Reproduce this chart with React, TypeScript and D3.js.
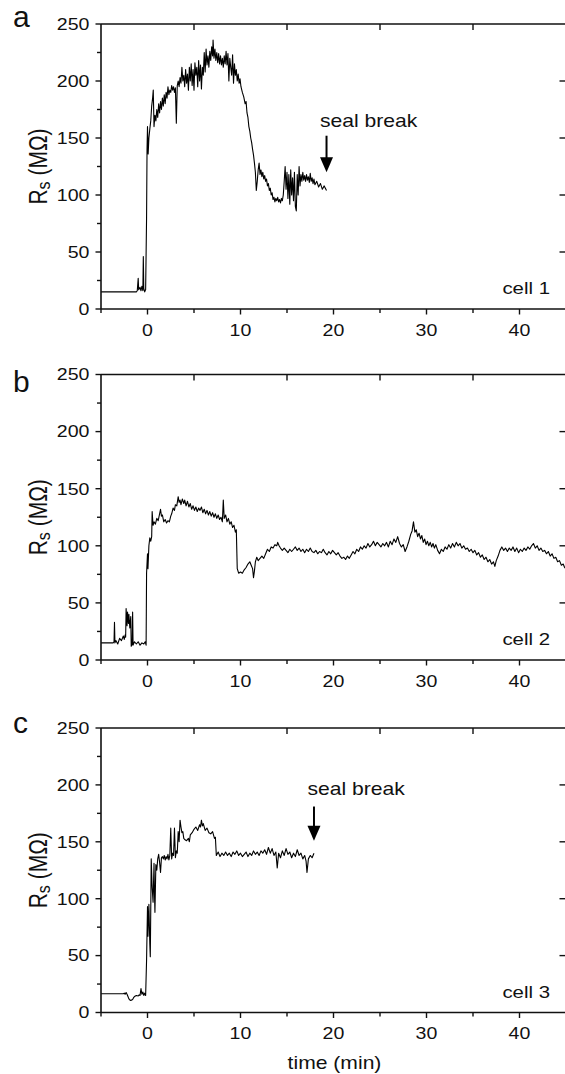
import React from "react";
import * as d3 from "d3";

// ---------- data ----------
const xTicks = [0, 10, 20, 30, 40];
const xMinorTicks = [-5, 5, 15, 25, 35];
const topTicks = [5, 15, 25, 35];
const yTicks = [0, 50, 100, 150, 200, 250];
const yMinorTicks = [25, 75, 125, 175, 225];
const rightTicks = [50, 100, 150, 200];
const panelLetters = ["a", "b", "c"];
const cellLabels = ["cell 1", "cell 2", "cell 3"];

// cell 1: [time (min), Rs (MΩ)]
const cell1: [number, number][] = [
  [-5, 15], [-1.2, 15], [-1.1, 16], [-1.0, 27], [-0.95, 17], [-0.8, 19], [-0.7, 16], [-0.6, 20], [-0.5, 16],
  [-0.45, 46], [-0.4, 18], [-0.3, 15], [-0.2, 17], [-0.1, 80], [-0.05, 140], [0.0, 160], [0.07, 136], [0.15, 150],
  [0.25, 158], [0.35, 165], [0.45, 178], [0.55, 185], [0.62, 192], [0.7, 160], [0.8, 170], [0.9, 165], [1.0, 175],
  [1.1, 168], [1.2, 180], [1.3, 172], [1.4, 182], [1.5, 175], [1.6, 185], [1.7, 178], [1.8, 188], [1.9, 180],
  [2.0, 190], [2.1, 185], [2.2, 195], [2.3, 188], [2.4, 192], [2.5, 190], [2.6, 196], [2.7, 192], [2.8, 195],
  [2.9, 190], [3.0, 194], [3.1, 163], [3.2, 196], [3.3, 200], [3.4, 195], [3.5, 203], [3.6, 198], [3.7, 212],
  [3.8, 200], [3.9, 205], [4.0, 195], [4.1, 210], [4.2, 198], [4.3, 206], [4.4, 192], [4.5, 212], [4.6, 200],
  [4.7, 215], [4.8, 196], [4.9, 210], [5.0, 192], [5.1, 216], [5.2, 205], [5.3, 212], [5.4, 195], [5.5, 218],
  [5.6, 200], [5.7, 214], [5.8, 193], [5.9, 212], [6.0, 205], [6.1, 225], [6.2, 208], [6.3, 228], [6.4, 214],
  [6.5, 222], [6.6, 212], [6.7, 226], [6.8, 218], [6.9, 230], [7.0, 222], [7.05, 236], [7.15, 220], [7.25, 228],
  [7.35, 218], [7.45, 225], [7.55, 216], [7.65, 224], [7.75, 215], [7.85, 222], [7.95, 214], [8.05, 220],
  [8.15, 212], [8.25, 222], [8.35, 215], [8.45, 226], [8.55, 214], [8.65, 224], [8.75, 200], [8.85, 220],
  [8.95, 212], [9.05, 205], [9.15, 223], [9.25, 198], [9.35, 215], [9.45, 205], [9.55, 210], [9.65, 200],
  [9.75, 206], [9.85, 198], [9.95, 202], [10.05, 195], [10.2, 190], [10.35, 186], [10.5, 180], [10.6, 182],
  [10.7, 172], [10.8, 168], [10.9, 160], [11.0, 156], [11.1, 150], [11.2, 146], [11.3, 140], [11.4, 135],
  [11.5, 128], [11.6, 120], [11.7, 104], [11.8, 112], [11.9, 122], [12.0, 128], [12.1, 118], [12.2, 122],
  [12.3, 116], [12.4, 120], [12.5, 114], [12.6, 117], [12.7, 112], [12.8, 114], [12.9, 108], [13.0, 110],
  [13.1, 104], [13.2, 106], [13.3, 100], [13.4, 102], [13.5, 96], [13.6, 98], [13.7, 94], [13.8, 97], [13.9, 95],
  [14.0, 98], [14.1, 94], [14.2, 96], [14.3, 93], [14.4, 97], [14.5, 95], [14.6, 100], [14.7, 112], [14.8, 125],
  [14.9, 105], [15.0, 120], [15.1, 97], [15.2, 118], [15.3, 92], [15.4, 122], [15.5, 100], [15.6, 115],
  [15.7, 95], [15.8, 120], [15.9, 90], [16.0, 86], [16.1, 118], [16.2, 100], [16.3, 125], [16.4, 108],
  [16.5, 118], [16.6, 112], [16.7, 120], [16.8, 113], [16.9, 117], [17.0, 112], [17.1, 118], [17.2, 113],
  [17.3, 116], [17.4, 111], [17.5, 119], [17.6, 112], [17.7, 115], [17.8, 110], [17.9, 114], [18.0, 109],
  [18.2, 112], [18.4, 107], [18.6, 110], [18.8, 105], [19.0, 108], [19.25, 104],
];

// cell 2
const cell2: [number, number][] = [
  [-5, 15], [-3.7, 15], [-3.6, 16], [-3.55, 33], [-3.5, 15], [-3.4, 17], [-3.2, 14], [-3.0, 19], [-2.8, 17],
  [-2.6, 21], [-2.5, 18], [-2.4, 22], [-2.35, 20], [-2.3, 45], [-2.2, 30], [-2.15, 42], [-2.05, 32], [-2.0, 40],
  [-1.9, 28], [-1.8, 38], [-1.75, 12], [-1.65, 14], [-1.6, 42], [-1.55, 13], [-1.4, 16], [-1.2, 14], [-1.0, 16],
  [-0.8, 13], [-0.6, 15], [-0.4, 14], [-0.25, 16], [-0.15, 13], [-0.1, 76], [0.0, 93], [0.05, 80], [0.15, 100],
  [0.25, 107], [0.35, 104], [0.45, 108], [0.5, 130], [0.6, 118], [0.7, 121], [0.85, 119], [1.0, 124],
  [1.15, 122], [1.3, 128], [1.4, 132], [1.5, 126], [1.6, 127], [1.75, 121], [1.9, 123], [2.05, 120], [2.2, 122],
  [2.35, 121], [2.5, 126], [2.6, 128], [2.75, 133], [2.9, 131], [3.0, 136], [3.15, 135], [3.3, 143], [3.4, 138],
  [3.5, 140], [3.6, 136], [3.75, 141], [3.9, 137], [4.0, 140], [4.15, 135], [4.3, 139], [4.45, 134], [4.6, 137],
  [4.75, 132], [4.9, 135], [5.05, 131], [5.2, 134], [5.35, 130], [5.5, 133], [5.65, 131], [5.8, 134], [5.95, 129],
  [6.1, 132], [6.25, 128], [6.4, 131], [6.55, 127], [6.7, 130], [6.85, 126], [7.0, 129], [7.15, 125], [7.3, 128],
  [7.45, 124], [7.6, 127], [7.75, 123], [7.9, 125], [8.05, 121], [8.15, 140], [8.25, 124], [8.4, 127],
  [8.55, 121], [8.7, 124], [8.85, 119], [9.0, 121], [9.15, 116], [9.3, 118], [9.45, 112], [9.55, 114], [9.65, 80],
  [9.8, 76], [10.0, 77], [10.2, 76], [10.4, 79], [10.6, 81], [10.8, 84], [11.0, 86], [11.15, 83], [11.3, 80],
  [11.4, 72], [11.5, 78], [11.6, 86], [11.75, 90], [11.9, 87], [12.1, 89], [12.3, 91], [12.5, 89], [12.7, 93],
  [12.9, 97], [13.1, 95], [13.3, 99], [13.5, 98], [13.7, 101], [13.9, 100], [14.0, 103], [14.15, 100], [14.3, 98],
  [14.5, 96], [14.7, 98], [14.9, 96], [15.1, 94], [15.3, 97], [15.5, 95], [15.7, 97], [15.9, 99], [16.1, 96],
  [16.3, 98], [16.5, 95], [16.7, 97], [16.9, 94], [17.1, 97], [17.3, 95], [17.5, 98], [17.7, 95], [17.9, 94],
  [18.1, 96], [18.3, 93], [18.5, 95], [18.7, 94], [18.9, 97], [19.1, 94], [19.3, 92], [19.5, 95], [19.7, 93],
  [19.9, 96], [20.1, 94], [20.3, 92], [20.5, 94], [20.7, 91], [20.9, 89], [21.1, 90], [21.3, 88], [21.5, 91],
  [21.7, 89], [21.9, 92], [22.1, 95], [22.3, 93], [22.5, 97], [22.7, 95], [22.9, 99], [23.1, 97], [23.3, 100],
  [23.5, 98], [23.7, 102], [23.9, 99], [24.1, 101], [24.3, 104], [24.5, 100], [24.7, 103], [24.9, 101],
  [25.1, 99], [25.3, 102], [25.5, 100], [25.7, 103], [25.9, 99], [26.1, 104], [26.3, 101], [26.5, 106],
  [26.7, 103], [26.9, 108], [27.1, 102], [27.3, 99], [27.5, 101], [27.7, 95], [27.9, 99], [28.1, 104],
  [28.3, 110], [28.45, 113], [28.6, 121], [28.75, 112], [28.9, 114], [29.05, 108], [29.2, 111], [29.35, 106],
  [29.5, 109], [29.65, 103], [29.8, 106], [29.95, 101], [30.1, 104], [30.25, 100], [30.4, 103], [30.55, 99],
  [30.7, 102], [30.85, 98], [31.0, 101], [31.2, 96], [31.4, 93], [31.6, 97], [31.8, 95], [32.0, 99], [32.2, 97],
  [32.4, 101], [32.6, 98], [32.8, 102], [33.0, 99], [33.2, 103], [33.4, 100], [33.6, 102], [33.8, 98],
  [34.0, 100], [34.2, 97], [34.4, 98], [34.6, 95], [34.8, 97], [35.0, 94], [35.2, 96], [35.4, 92], [35.6, 94],
  [35.8, 90], [36.0, 92], [36.2, 88], [36.4, 90], [36.6, 86], [36.8, 88], [37.0, 84], [37.2, 86], [37.35, 82],
  [37.5, 87], [37.7, 91], [37.9, 96], [38.1, 99], [38.3, 96], [38.5, 98], [38.7, 95], [38.9, 98], [39.1, 96],
  [39.3, 99], [39.5, 95], [39.7, 98], [39.9, 94], [40.1, 97], [40.3, 95], [40.5, 98], [40.7, 96], [40.9, 99],
  [41.1, 97], [41.3, 100], [41.5, 102], [41.7, 98], [41.9, 100], [42.1, 96], [42.3, 98], [42.5, 95], [42.7, 96],
  [42.9, 93], [43.1, 95], [43.3, 91], [43.5, 93], [43.7, 89], [43.9, 90], [44.1, 86], [44.3, 87], [44.5, 83],
  [44.7, 84], [44.85, 81], [45, 80],
];

// cell 3
const cell3: [number, number][] = [
  [-5, 16.5], [-2.6, 16.5], [-2.5, 17], [-2.4, 16], [-2.3, 17.5], [-2.2, 16], [-2.1, 14], [-2.0, 12], [-1.9, 11],
  [-1.8, 10.5], [-1.7, 11], [-1.6, 11.5], [-1.5, 13], [-1.4, 14], [-1.2, 15], [-1.0, 14.5], [-0.9, 15.5],
  [-0.8, 15], [-0.7, 21], [-0.6, 16], [-0.5, 18], [-0.4, 15], [-0.3, 17], [-0.2, 15], [-0.1, 46], [0.0, 93],
  [0.05, 67], [0.15, 95], [0.25, 60], [0.3, 49], [0.35, 90], [0.4, 135], [0.5, 110], [0.6, 97], [0.7, 131],
  [0.75, 105], [0.8, 88], [0.9, 130], [1.0, 125], [1.1, 135], [1.2, 139], [1.3, 132], [1.4, 123], [1.5, 136],
  [1.6, 137], [1.7, 135], [1.8, 138], [1.9, 134], [2.0, 137], [2.1, 135], [2.2, 139], [2.3, 134], [2.4, 138],
  [2.5, 162], [2.6, 135], [2.7, 140], [2.8, 138], [2.9, 162], [3.0, 136], [3.1, 142], [3.2, 140], [3.3, 159],
  [3.4, 150], [3.5, 169], [3.6, 163], [3.7, 158], [3.8, 159], [3.9, 153], [4.0, 152], [4.2, 151], [4.4, 153],
  [4.5, 150], [4.6, 156], [4.8, 158], [5.0, 161], [5.2, 163], [5.4, 160], [5.6, 165], [5.7, 163], [5.8, 169],
  [5.9, 164], [6.0, 166], [6.2, 160], [6.4, 162], [6.6, 158], [6.8, 157], [7.0, 159], [7.2, 153], [7.3, 154],
  [7.4, 138], [7.6, 141], [7.8, 137], [8.0, 140], [8.2, 138], [8.4, 141], [8.6, 138], [8.8, 140], [9.0, 137],
  [9.2, 141], [9.4, 139], [9.6, 142], [9.8, 138], [10.0, 140], [10.2, 137], [10.4, 139], [10.6, 141],
  [10.8, 137], [11.0, 140], [11.2, 138], [11.4, 142], [11.6, 139], [11.8, 141], [12.0, 138], [12.2, 142],
  [12.4, 140], [12.6, 143], [12.8, 139], [13.0, 145], [13.2, 140], [13.4, 144], [13.6, 138], [13.8, 141],
  [13.95, 127], [14.1, 140], [14.3, 136], [14.5, 142], [14.7, 138], [14.9, 144], [15.1, 139], [15.3, 141],
  [15.5, 136], [15.7, 140], [15.9, 137], [16.1, 143], [16.3, 138], [16.5, 140], [16.7, 135], [16.9, 138],
  [17.05, 133], [17.15, 123], [17.3, 135], [17.5, 138], [17.7, 136], [17.9, 140],
];

const series = [cell1, cell2, cell3];

// seal break annotations (data units)
const sealBreaks = [
  { panel: 0, t: 19.25, from: 152, to: 120, textT: 18.55, textR: 160 },
  { panel: 2, t: 17.9, from: 181, to: 151, textT: 17.2, textR: 191 },
];

// ---------- layout ----------
const W = 565;
const H = 1074;
const panelTop = [24, 374.5, 728];
const panelBottom = [309, 660, 1012.5];
const plotLeft = 101;
const plotRight = 566;
const FONT = "'Liberation Sans', Arial, Helvetica, sans-serif";
const SX = 1.2; // horizontal stretch of the original figure

const x = d3.scaleLinear().domain([-5, 45]).range([plotLeft, plotRight]);

function SText(props: {
  x: number; y: number; size: number; anchor?: string; children: React.ReactNode; sx?: number;
}) {
  const { size, anchor = "start", children } = props;
  const s = props.sx ?? SX;
  return (
    <text
      transform={`translate(${props.x},${props.y}) scale(${s},1)`}
      fontSize={size}
      fontFamily={FONT}
      textAnchor={anchor}
      fill="#111"
    >
      {children}
    </text>
  );
}

function Panel({ i }: { i: number }) {
  const top = panelTop[i];
  const bottom = panelBottom[i];
  const y = d3.scaleLinear().domain([0, 250]).range([bottom, top]);
  const line = d3
    .line<[number, number]>()
    .x((d) => x(d[0]))
    .y((d) => y(d[1]));
  const mid = (top + bottom) / 2;
  const stroke = "#111";
  const sb = sealBreaks.filter((s) => s.panel === i);
  return (
    <g>
      {/* data trace */}
      <path d={line(series[i]) || ""} fill="none" stroke="#000" strokeWidth={1.1} strokeLinejoin="round" />
      {/* frame */}
      <line x1={plotLeft} x2={plotRight} y1={top} y2={top} stroke={stroke} strokeWidth={1.6} />
      <line x1={plotLeft} x2={plotRight} y1={bottom} y2={bottom} stroke={stroke} strokeWidth={1.6} />
      <line x1={plotLeft} x2={plotLeft} y1={top} y2={bottom} stroke={stroke} strokeWidth={1.6} />
      {/* bottom ticks */}
      {xTicks.map((t) => (
        <line key={"xt" + t} x1={x(t)} x2={x(t)} y1={bottom} y2={bottom + 5.5} stroke={stroke} strokeWidth={1.4} />
      ))}
      {xMinorTicks.map((t) => (
        <line key={"xm" + t} x1={x(t)} x2={x(t)} y1={bottom} y2={bottom + 4} stroke={stroke} strokeWidth={1.4} />
      ))}
      {/* top ticks (inward) */}
      {topTicks.map((t) => (
        <line key={"tt" + t} x1={x(t)} x2={x(t)} y1={top} y2={top + 6} stroke={stroke} strokeWidth={1.4} />
      ))}
      {/* left ticks */}
      {yTicks.map((v) => (
        <line key={"yt" + v} x1={plotLeft - 5.5} x2={plotLeft} y1={y(v)} y2={y(v)} stroke={stroke} strokeWidth={1.4} />
      ))}
      {yMinorTicks.map((v) => (
        <line key={"ym" + v} x1={plotLeft - 4} x2={plotLeft} y1={y(v)} y2={y(v)} stroke={stroke} strokeWidth={1.4} />
      ))}
      {/* right ticks (inward) */}
      {rightTicks.map((v) => (
        <line key={"rt" + v} x1={plotRight - 6.5} x2={plotRight} y1={y(v)} y2={y(v)} stroke={stroke} strokeWidth={1.4} />
      ))}
      {/* tick labels */}
      {yTicks.map((v) => (
        <SText key={"yl" + v} x={89.5} y={y(v) + 5.8} size={16.3} anchor="end">
          {v}
        </SText>
      ))}
      {xTicks.map((t) => (
        <SText key={"xl" + t} x={x(t)} y={bottom + 26.5} size={16.3} anchor="middle">
          {t}
        </SText>
      ))}
      {/* y title */}
      <text
        transform={`translate(46.5,${mid}) scale(${SX},1) rotate(-90)`}
        fontSize={21}
        fontFamily={FONT}
        textAnchor="middle"
        fill="#111"
      >
        <tspan>R</tspan>
        <tspan fontSize={16} dy={3}>s</tspan>
        <tspan dy={-3}> (MΩ)</tspan>
      </text>
      {/* panel letter */}
      <text x={13} y={top + (i === 0 ? 3.3 : i === 1 ? 17.2 : 5.3)} fontSize={30} fontFamily={FONT} fill="#111">
        {panelLetters[i]}
      </text>
      {/* cell label */}
      <SText x={550} y={bottom - 15} size={17} anchor="end">
        {cellLabels[i]}
      </SText>
      {/* seal break annotations */}
      {sb.map((s, k) => {
        const ax = x(s.t);
        const y0 = y(s.from);
        const y1 = y(s.to);
        const head = 15;
        return (
          <g key={"sb" + k}>
            <SText x={x(s.textT)} y={y(s.textR)} size={17.6} anchor="start">
              seal break
            </SText>
            <line x1={ax} x2={ax} y1={y0} y2={y1 - head + 2} stroke="#000" strokeWidth={2} />
            <path d={`M${ax - 6.5},${y1 - head} L${ax + 6.5},${y1 - head} L${ax},${y1} Z`} fill="#000" />
          </g>
        );
      })}
    </g>
  );
}

export default function App() {
  return (
    <svg
      width={W}
      height={H}
      viewBox={`0 0 ${W} ${H}`}
      style={{ position: "absolute", left: 0, top: 0, background: "#fff" }}
    >
      <rect x={0} y={0} width={W} height={H} fill="#fff" />
      {[0, 1, 2].map((i) => (
        <Panel key={i} i={i} />
      ))}
      <SText x={334.5} y={1069} size={17.6} anchor="middle">
        time (min)
      </SText>
    </svg>
  );
}
